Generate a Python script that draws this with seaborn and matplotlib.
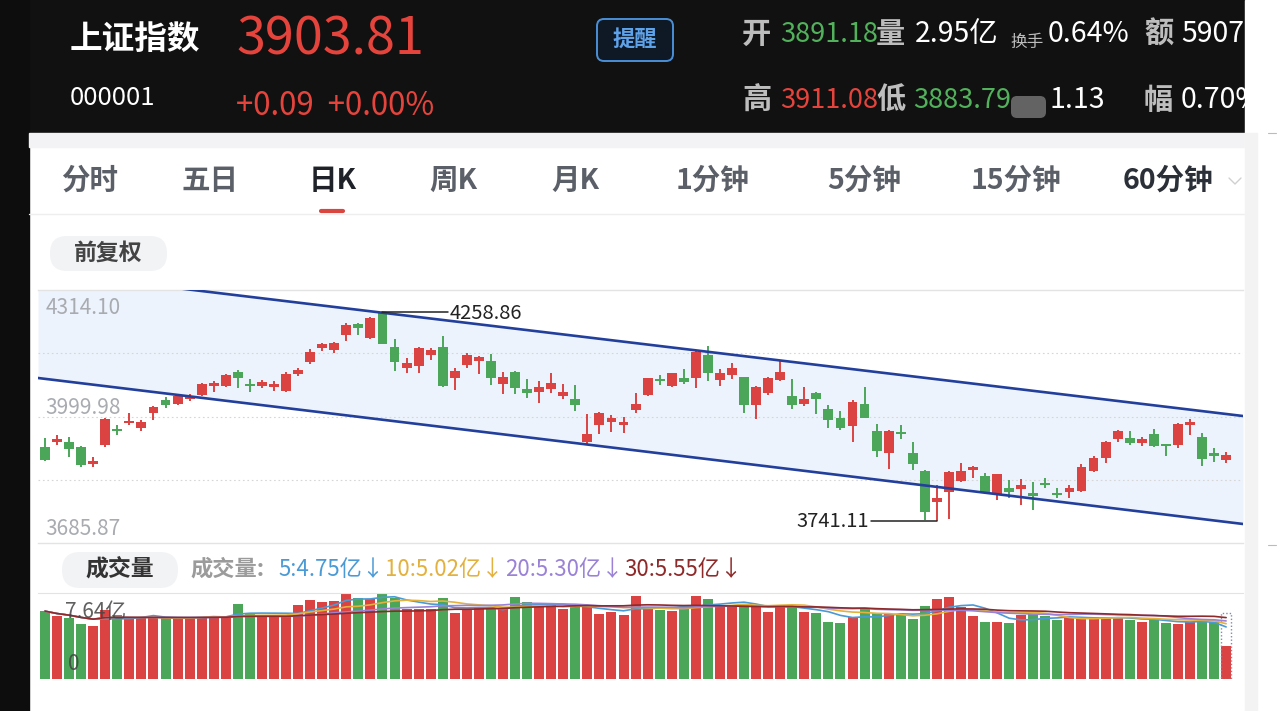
import numpy as np
import pandas as pd
import seaborn as sns
import matplotlib.pyplot as plt
from matplotlib.patches import Rectangle, FancyBboxPatch

sns.set_style('white')
plt.rcParams['font.family'] = ['Noto Sans CJK SC', 'DejaVu Sans']
plt.rcParams['axes.unicode_minus'] = False

# daily K-line data, oldest first, last one = today
open_ = [3925.0, 3937.5, 3937.5, 3925.0, 3882.0, 3929.0, 3968.0, 3983.0, 3970.7, 4008.0,
         4041.0, 4031.0, 4044.0, 4053.4, 4075.7, 4075.7, 4111.0, 4080.0, 4076.5, 4072.5,
         4064.0, 4105.5, 4136.0, 4169.3, 4165.0, 4202.4, 4229.7, 4194.0, 4257.7, 4173.3,
         4121.2, 4125.4, 4152.7, 4173.3, 4096.3, 4127.9, 4138.5, 4137.8, 4080.7, 4109.7,
         4067.5, 4061.6, 4067.5, 4050.9, 4043.4, 3937.5, 3979.0, 3987.0, 3979.0, 4016.0,
         4053.4, 4094.0, 4075.7, 4094.8, 4094.8, 4152.7, 4090.6, 4103.0, 4097.3, 4028.5,
         4057.6, 4090.6, 4050.9, 4031.0, 4059.0, 4018.6, 3995.5, 3977.2, 4030.2, 3964.0,
         3910.0, 3962.0, 3910.0, 3864.7, 3788.4, 3813.0, 3839.8, 3867.0, 3852.0, 3807.6,
         3821.7, 3819.0, 3809.3, 3835.6, 3810.8, 3813.0, 3815.7, 3865.4, 3896.0, 3943.4,
         3947.4, 3933.5, 3956.0, 3930.9, 3929.2, 3979.0, 3949.8, 3908.6, 3891.18]
close_ = [3892.0, 3943.4, 3919.4, 3879.5, 3890.0, 3993.0, 3965.0, 3989.5, 3987.0, 4024.4,
          4028.5, 4050.9, 4049.0, 4080.7, 4082.4, 4103.0, 4094.8, 4075.7, 4085.0, 4080.0,
          4105.5, 4115.5, 4160.9, 4179.3, 4181.7, 4227.2, 4219.0, 4243.8, 4180.0, 4136.0,
          4132.0, 4169.3, 4165.0, 4076.5, 4113.0, 4152.7, 4147.0, 4094.8, 4097.3, 4070.0,
          4059.0, 4074.0, 4082.4, 4060.0, 4028.5, 3956.0, 4008.0, 3995.5, 3987.0, 4031.0,
          4094.8, 4089.0, 4107.0, 4085.0, 4160.9, 4108.8, 4108.8, 4119.7, 4028.5, 4072.5,
          4094.8, 4111.0, 4028.5, 4042.7, 4042.7, 3991.3, 3970.7, 4036.7, 3997.0, 3915.0,
          3964.7, 3956.5, 3882.0, 3763.6, 3797.0, 3863.0, 3864.7, 3875.3, 3813.0, 3856.5,
          3813.0, 3830.0, 3802.6, 3830.0, 3805.0, 3823.0, 3875.3, 3897.7, 3937.5, 3964.7,
          3935.0, 3944.0, 3926.7, 3927.5, 3981.4, 3987.0, 3893.7, 3901.9, 3903.81]
high_ = [3946.0, 3954.0, 3949.8, 3927.5, 3900.0, 3995.6, 3979.0, 4009.7, 3991.0, 4026.0,
         4049.2, 4055.0, 4055.0, 4084.0, 4088.0, 4105.5, 4115.5, 4092.4, 4090.6, 4088.0,
         4111.0, 4119.7, 4166.8, 4183.2, 4185.7, 4231.4, 4231.4, 4247.8, 4258.86, 4191.7,
         4146.0, 4171.8, 4170.8, 4199.9, 4119.7, 4157.0, 4150.0, 4155.0, 4111.0, 4113.7,
         4092.4, 4089.0, 4107.0, 4080.7, 4078.0, 4006.0, 4010.5, 4003.7, 3998.0, 4059.0,
         4096.3, 4103.0, 4108.8, 4117.0, 4163.4, 4175.0, 4117.0, 4132.0, 4097.3, 4075.7,
         4097.3, 4138.5, 4092.4, 4072.5, 4061.6, 4028.5, 4014.4, 4041.0, 4074.0, 3980.6,
         3966.5, 3979.0, 3937.5, 3867.0, 3830.0, 3864.7, 3883.8, 3877.0, 3859.0, 3857.2,
         3842.3, 3844.0, 3838.0, 3846.5, 3823.0, 3830.0, 3882.0, 3902.0, 3940.0, 3966.5,
         3964.7, 3949.8, 3968.0, 3931.0, 3984.6, 3993.0, 3959.8, 3922.5, 3911.08]
low_ = [3890.0, 3929.0, 3900.0, 3873.8, 3875.0, 3925.0, 3954.0, 3979.0, 3965.0, 3991.0,
        4020.4, 4028.5, 4038.5, 4051.0, 4061.6, 4074.0, 4070.0, 4061.6, 4070.0, 4063.3,
        4061.6, 4100.6, 4130.4, 4163.4, 4157.0, 4187.5, 4202.4, 4191.7, 4180.0, 4113.7,
        4108.8, 4107.0, 4140.3, 4074.0, 4067.0, 4119.7, 4105.5, 4078.0, 4055.9, 4055.9,
        4045.0, 4032.8, 4057.6, 4042.7, 4014.4, 3931.7, 3956.0, 3962.0, 3958.0, 4008.0,
        4051.0, 4078.0, 4074.0, 4080.7, 4070.0, 4087.6, 4075.7, 4092.4, 4008.0, 3993.0,
        4053.4, 4089.0, 4018.6, 4026.0, 4006.0, 3970.7, 3966.5, 3937.5, 3995.5, 3900.0,
        3869.0, 3943.4, 3867.0, 3744.0, 3741.11, 3745.0, 3838.0, 3848.5, 3810.7, 3792.6,
        3797.0, 3780.0, 3767.8, 3821.7, 3797.0, 3797.0, 3813.0, 3863.0, 3883.8, 3937.5,
        3929.0, 3926.7, 3925.0, 3901.9, 3923.0, 3954.0, 3877.9, 3887.8, 3883.79]
# volume in 亿
volume = [6.05, 5.63, 5.40, 4.89, 4.71, 6.14, 5.69, 5.45, 5.45, 5.54,
          5.45, 5.45, 5.45, 5.54, 5.63, 5.63, 6.68, 5.85, 5.60, 5.60,
          5.60, 6.59, 7.04, 6.83, 6.95, 7.64, 7.19, 7.10, 7.55, 7.19,
          6.23, 6.23, 6.23, 7.25, 5.85, 6.14, 6.35, 6.35, 6.20, 7.28,
          6.83, 6.44, 6.59, 6.20, 6.53, 6.44, 5.76, 5.99, 5.69, 7.42,
          6.44, 6.14, 6.08, 6.29, 7.42, 7.10, 6.50, 6.59, 6.65, 6.59,
          5.99, 6.59, 6.44, 5.99, 5.90, 5.09, 4.95, 5.49, 6.29, 5.85,
          5.76, 5.69, 5.34, 6.50, 7.10, 7.34, 6.44, 5.63, 5.04, 5.04,
          4.95, 5.69, 5.76, 5.60, 5.25, 5.40, 5.49, 5.54, 5.54, 5.40,
          5.25, 5.04, 5.40, 5.00, 4.89, 5.09, 5.25, 5.04, 2.95]
est_volume_today = 5.87

# price axis labels / grid
price_top, price_mid, price_bottom = 4314.10, 3999.98, 3685.87
vol_max_label = '7.64亿'

# channel drawn on the chart (two parallel lines), in (bar index, price)
chan_x = [-0.58, 99.4]
chan_upper = [4360.3, 4001.2]
chan_lower = [4095.6, 3733.1]

tabs = ['分时', '五日', '日K', '周K', '月K', '1分钟', '5分钟', '15分钟', '60分钟']
tab_x = [90, 210, 333, 453, 575, 712, 864, 1016, 1168]

ma_windows = [5, 10, 20, 30]
ma_colors = ['#4a9ad6', '#e3b13e', '#9a83d6', '#8e2a2a']
ma_text = ['5:4.75亿↓', '10:5.02亿↓', '20:5.30亿↓', '30:5.55亿↓']
ma_text_x = [278, 385, 505, 624]

RED = '#db4242'
GREEN = '#4ca65a'

df = pd.DataFrame({'open': open_, 'close': close_, 'high': high_, 'low': low_, 'vol': volume})
df['idx'] = np.arange(len(df))
df['color'] = np.where(df['close'] >= df['open'], RED, GREEN)
for w in ma_windows:
    df[f'ma{w}'] = df['vol'].rolling(w, min_periods=1).mean()

W, H = 1280, 711
fig = plt.figure(figsize=(12.8, 7.11), dpi=100)

ui = fig.add_axes([0, 0, 1, 1])
ui.set_xlim(0, W)
ui.set_ylim(H, 0)
ui.axis('off')


def px_axes(left, top, right, bottom):
    return fig.add_axes([left / W, 1 - bottom / H, (right - left) / W, (bottom - top) / H])


def txt(x, y, s, size, color, weight='normal', ha='left', zorder=3):
    ui.text(x, y, s, fontsize=size, color=color, fontweight=weight, ha=ha, va='center', zorder=zorder)


# page background pieces
ui.add_patch(Rectangle((0, 0), 1245, 133, color='#111111', zorder=1))
ui.add_patch(Rectangle((0, 0), 29, H, color='#0d0d0d', zorder=1))
ui.add_patch(Rectangle((29, 133), 1216, 14, color='#f3f3f5', zorder=1))
ui.plot([29, 1245], [214, 214], color='#eeeeee', lw=1, zorder=1)
ui.add_patch(Rectangle((1245, 0), 35, H, color='white', zorder=10))
ui.add_patch(Rectangle((1245, 133), 12, H - 133, color='#f3f3f3', zorder=11))
ui.plot([1268, 1276], [133, 133], color='#bbbbbb', lw=0.8, zorder=11)
ui.plot([1268, 1276], [545, 545], color='#bbbbbb', lw=0.8, zorder=11)

# header
txt(70, 39, '上证指数', 23.5, 'white', 'bold')
txt(236, 40, '3903.81', 37.5, '#e5443d')
txt(70, 98, '000001', 18.5, 'white')
txt(236, 106, '+0.09  +0.00%', 22.5, '#e5443d')
ui.add_patch(FancyBboxPatch((597, 19), 76, 42, boxstyle='round,pad=0,rounding_size=7',
                            facecolor='#0f1925', edgecolor='#4a8fd6', lw=1.4, zorder=2))
txt(635, 39, '提醒', 16, '#5ea2ea', 'bold', ha='center')

GRAY_LBL = '#bdbdbd'
txt(742, 34, '开', 21, GRAY_LBL, 'bold')
txt(780, 34, '3891.18', 19.5, '#52b25c')
txt(876, 34, '量', 21, GRAY_LBL, 'bold')
txt(915, 34, '2.95亿', 20.5, 'white')
txt(1010, 42, '换手', 12, GRAY_LBL)
txt(1048, 34, '0.64%', 20.5, 'white')
txt(1144, 34, '额', 21, GRAY_LBL, 'bold')
txt(1181, 34, '5907', 20.5, 'white')

txt(742, 100, '高', 21, GRAY_LBL, 'bold')
txt(780, 100, '3911.08', 19.5, '#e5443d')
txt(876, 100, '低', 21, GRAY_LBL, 'bold')
txt(913, 100, '3883.79', 19.5, '#52b25c')
ui.add_patch(FancyBboxPatch((1011, 96), 35, 22, boxstyle='round,pad=0,rounding_size=6',
                            facecolor='#c9c9c9', edgecolor='none', alpha=0.45, zorder=2))
txt(1050, 100, '1.13', 20.5, 'white')
txt(1144, 100, '幅', 21, GRAY_LBL, 'bold')
txt(1181, 100, '0.70%', 20.5, 'white')

# tab bar
for name, x in zip(tabs, tab_x):
    if name == '日K':
        txt(x, 181, name, 20.5, '#1f2329', 'bold', ha='center')
    elif name == '60分钟':
        txt(x, 181, name, 20.5, '#2b3038', 'bold', ha='center')
    else:
        txt(x, 181, name, 20.5, '#5b6068', 'semibold', ha='center')
ui.plot([321, 343], [211, 211], color='#d9453f', lw=3, solid_capstyle='round', zorder=3)
ui.plot([1229, 1235, 1241], [178, 184, 178], color='#d0d0d0', lw=1, zorder=3)

# pills
ui.add_patch(FancyBboxPatch((50, 236), 117, 35, boxstyle='round,pad=0,rounding_size=17',
                            facecolor='#f2f3f5', edgecolor='none', zorder=2))
txt(108, 253, '前复权', 16.5, '#444444', 'semibold', ha='center')
ui.add_patch(FancyBboxPatch((62, 552), 116, 36, boxstyle='round,pad=0,rounding_size=18',
                            facecolor='#f2f3f5', edgecolor='none', zorder=2))
txt(120, 569, '成交量', 16.5, '#333333', 'bold', ha='center')
txt(190, 569, '成交量:', 16, '#9b9b9b', 'semibold')
for s, x, c in zip(ma_text, ma_text_x, ma_colors):
    txt(x, 569, s, 16, c)

# price panel
ax = px_axes(38, 290, 1243, 543)
ax.set_xlim(-0.58, 99.4)
ax.set_ylim(price_bottom, price_top)
ax.fill_between(chan_x, chan_lower, chan_upper, color='#edf3fc', lw=0, zorder=0.5)
step = (price_top - price_bottom) / 4
for lv in [price_top - step, price_mid, price_bottom + step]:
    ax.axhline(lv, color='#d6d6d6', lw=0.8, ls=(0, (1.5, 2.5)), zorder=1)

ax.vlines(df['idx'], df['low'], df['high'], colors=df['color'], lw=1.4, zorder=3)
body_lo = np.minimum(df['open'], df['close'])
body_h = (df['close'] - df['open']).abs()
min_h = 5.5
bottom = np.where(body_h < min_h, (df['open'] + df['close']) / 2 - min_h / 2, body_lo)
ax.bar(df['idx'], np.maximum(body_h, min_h), bottom=bottom, width=0.82, color=df['color'],
       lw=0, zorder=3)

sns.lineplot(x=chan_x, y=chan_upper, ax=ax, color='#233f9c', lw=1.9, zorder=4)
sns.lineplot(x=chan_x, y=chan_lower, ax=ax, color='#233f9c', lw=1.9, zorder=4)

# max / min markers
hi_i = int(df['high'].idxmax())
lo_i = int(df['low'].idxmin())
hi_v = df['high'].max()
lo_v = df['low'].min()
ax.plot([hi_i, 33.4], [hi_v, hi_v], color='#222222', lw=1.1, zorder=5)
ax.text(33.55, hi_v - 4, f'{hi_v:.2f}', fontsize=14.5, color='#222222', ha='left', va='center', zorder=5)
ax.plot([lo_i, 68.5], [lo_v, lo_v], color='#222222', lw=1.1, zorder=5)
ax.text(68.35, lo_v - 3, f'{lo_v:.2f}', fontsize=14.5, color='#222222', ha='right', va='center', zorder=5)

lbl_color = '#a8abb0'
ax.text(0.006, 0.929, f'{price_top:.2f}', transform=ax.transAxes, fontsize=15, color=lbl_color, va='center')
ax.text(0.006, 0.534, f'{price_mid:.2f}', transform=ax.transAxes, fontsize=15, color=lbl_color, va='center')
ax.text(0.006, 0.055, f'{price_bottom:.2f}', transform=ax.transAxes, fontsize=15, color=lbl_color, va='center')

ax.set_xticks([])
ax.set_yticks([])
ax.set_xlabel('')
ax.set_ylabel('')
for side in ['left', 'right']:
    ax.spines[side].set_visible(False)
for side in ['top', 'bottom']:
    ax.spines[side].set_color('#e3e3e3')
    ax.spines[side].set_linewidth(1)

# volume panel
vax = px_axes(38, 593, 1243, 679)
vax.set_xlim(-0.58, 99.4)
vax.set_ylim(0, 7.67)
vax.bar(df['idx'], df['vol'], width=0.83, color=df['color'], lw=0, zorder=2)
vax.bar(df['idx'].iloc[-1], est_volume_today, width=0.83, fill=False, edgecolor='#7f8cab',
        ls=(0, (1, 1.5)), lw=1, zorder=2)
for w, c in zip(ma_windows, ma_colors):
    sns.lineplot(x=df['idx'], y=df[f'ma{w}'], ax=vax, color=c, lw=1.2, zorder=3)
vax.text(0.0224, 0.78, vol_max_label, transform=vax.transAxes, fontsize=15, color='#444444',
         alpha=0.85, va='center', zorder=4)
vax.text(0.025, 0.17, '0', transform=vax.transAxes, fontsize=15, color='#444444',
         alpha=0.85, va='center', zorder=4)
vax.set_xticks([])
vax.set_yticks([])
vax.set_xlabel('')
vax.set_ylabel('')
for side in ['left', 'right', 'bottom']:
    vax.spines[side].set_visible(False)
vax.spines['top'].set_color('#e3e3e3')

fig.savefig('out.png', dpi=100)
